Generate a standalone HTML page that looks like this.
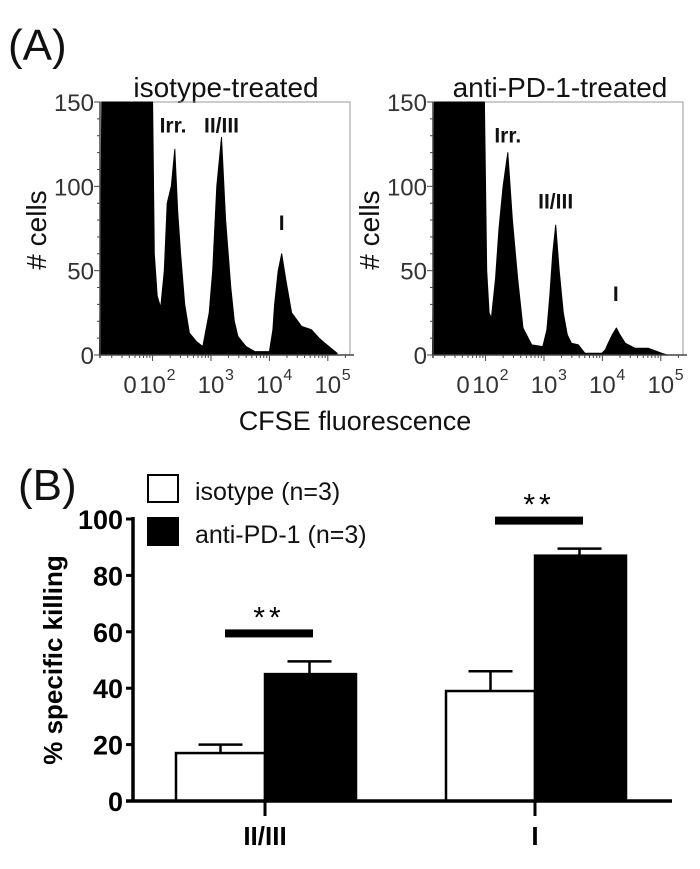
<!DOCTYPE html>
<html><head><meta charset="utf-8">
<style>
html,body{margin:0;padding:0;background:#fff;}
svg{display:block;font-family:"Liberation Sans",Arial,sans-serif;}
</style></head>
<body>
<svg id="fig" width="700" height="869" viewBox="0 0 700 869" xmlns="http://www.w3.org/2000/svg">
<text x="8" y="60" font-size="44" fill="#111">(A)</text>
<text x="226" y="97" font-size="28" text-anchor="middle" fill="#111">isotype-treated</text>
<text x="560" y="97" font-size="28" text-anchor="middle" fill="#111">anti-PD-1-treated</text>
<text x="355" y="430" font-size="27" text-anchor="middle" fill="#111">CFSE fluorescence</text>
<g id="histA"></g>
<text x="18" y="500" font-size="44" fill="#111">(B)</text>
<g id="barB"></g>
</svg>
<script>
const NS="http://www.w3.org/2000/svg";
function mk(p,t,a){const e=document.createElementNS(NS,t);for(const k in a)e.setAttribute(k,a[k]);p.appendChild(e);return e;}

// Histogram data: x in log decades, y counts
const isoX=[1.09,1.13,2.0,2.03,2.08,2.14,2.2,2.25,2.32,2.38,2.43,2.48,2.55,2.63,2.75,2.86,2.97,3.03,3.1,3.18,3.25,3.34,3.40,3.46,3.6,3.75,4.0,4.06,4.09,4.15,4.21,4.28,4.38,4.55,4.72,4.85,4.95,5.16];
const isoY=[25,150,150,60,35,28,50,90,100,122,85,60,30,13,8,5,25,50,100,129,80,40,20,11,5,2,2,15,30,50,60,45,25,17,15,10,7,1];
const pdX=[1.09,1.12,1.98,2.02,2.06,2.10,2.17,2.23,2.30,2.38,2.46,2.55,2.64,2.79,2.98,3.05,3.10,3.15,3.20,3.26,3.33,3.40,3.47,3.59,3.70,3.99,4.05,4.10,4.17,4.24,4.30,4.39,4.56,4.79,5.02,5.11];
const pdY=[30,150,150,50,25,22,45,75,100,120,80,45,16,6,5,15,35,60,77,50,25,12,7,6,1,1,3,7,12,16,12,7,4,4,1,0];
const yTicks=[0,50,100,150];
const xTickVals=[2,3,4,5];
const xTickLabels=["10","10","10","10"];
const xTickExp=["2","3","4","5"];

const H=document.getElementById('histA');
function histPanel(x0,xs,ys,name,labels){
  const w=250,top=102,bot=355;
  const dmin=1.1,dmax=5.38;
  const sx=d=>x0+(d-dmin)/(dmax-dmin)*w;
  const sy=v=>bot-(Math.min(v,150)/150)*(bot-top);
  const g=mk(H,'g',{});
  
  
  const fr=mk(g,'rect',{x:x0,y:top,width:w,height:bot-top,fill:'none',stroke:'#999','stroke-width':1});
  
  
  let d='M'+sx(xs[0])+','+bot;
  for(let i=0;i<xs.length;i++) d+=' L'+sx(Math.max(xs[i],dmin)).toFixed(1)+','+sy(ys[i]).toFixed(1);
  d+=' L'+sx(xs[xs.length-1])+','+bot+' Z';
  const p=mk(g,'path',{d:d,fill:'#000','stroke':'#000','stroke-width':1,'stroke-linejoin':'round'});
  
  
  mk(g,'line',{x1:x0,y1:top,x2:x0,y2:bot+3,stroke:'#444','stroke-width':1.5});
  mk(g,'line',{x1:x0,y1:bot,x2:x0+w+4,y2:bot,stroke:'#444','stroke-width':1.5});
  for(let v=0;v<=150;v+=10){const y=sy(v);mk(g,'line',{x1:x0-(v%50?3:6),y1:y,x2:x0,y2:y,stroke:'#444','stroke-width':1});}
  yTicks.forEach(v=>{const t=mk(g,'text',{x:x0-6,y:sy(v)+9,'font-size':24,'text-anchor':'end',fill:'#333'});t.textContent=v;
    });
  for(let k=1;k<6;k++){for(let m=1;m<10;m++){const dd=k+Math.log10(m);if(dd<dmin||dd>dmax)continue;const X=sx(dd);mk(g,'line',{x1:X,y1:bot,x2:X,y2:bot+(m==1?6:3),stroke:'#444','stroke-width':1});}}
  const z=mk(g,'text',{x:x0+30,y:bot+38,'font-size':24,'text-anchor':'middle',fill:'#333'});z.textContent='0';
  xTickVals.forEach((v,i)=>{const t=mk(g,'text',{x:sx(v),y:bot+38,'font-size':24,'text-anchor':'middle',fill:'#333'});
    t.textContent=xTickLabels[i];
    
    const s=mk(g,'text',{x:sx(v)+14,y:bot+25,'font-size':16,fill:'#333'});s.textContent=xTickExp[i];});
  const yl=mk(g,'text',{transform:'translate('+(x0-54)+',230) rotate(-90)','font-size':28,'text-anchor':'middle',fill:'#111'});
  yl.textContent='# cells';
  
  labels.forEach(l=>{const t=mk(g,'text',{x:sx(l[0]),y:sy(l[1]),'font-size':21,'font-weight':'bold','text-anchor':'middle',fill:'#111'});t.textContent=l[2];
    });
}
histPanel(100,isoX,isoY,'isotype',[[2.35,132,'Irr.'],[3.18,132,'II/III'],[4.21,74,'I']]);
histPanel(433,pdX,pdY,'anti-pd1',[[2.38,126,'Irr.'],[3.2,87,'II/III'],[4.23,32,'I']]);

// Bar chart data
const groups=["II/III","I"];
const isoMean=[17,39];
const isoErr=[3,7];
const pdMean=[45,87];
const pdErr=[4.5,2.5];
const barTicks=[0,20,40,60,80,100];

const B=document.getElementById('barB');
const bx0=133,bx1=672,by0=801,by1=519;
const vy=v=>by0-v/100*(by0-by1);
const centers=[265,535];
const bw=89;
barTicks.forEach(v=>{const y=vy(v);mk(B,'line',{x1:bx0-7,y1:y,x2:bx0,y2:y,stroke:'#000','stroke-width':3});
  const t=mk(B,'text',{x:bx0-10,y:y+10,'font-size':27,'font-weight':'bold','text-anchor':'end',fill:'#000'});t.textContent=v;
  });
groups.forEach((gname,i)=>{
  const c=centers[i];
  [[isoMean[i],isoErr[i],c-bw/2],[pdMean[i],pdErr[i],c+bw/2]].forEach(e=>{
    mk(B,'line',{x1:e[2],y1:vy(e[0]),x2:e[2],y2:vy(e[0]+e[1]),stroke:'#000','stroke-width':2.5});
    mk(B,'line',{x1:e[2]-22,y1:vy(e[0]+e[1]),x2:e[2]+22,y2:vy(e[0]+e[1]),stroke:'#000','stroke-width':2.5});
  });
  const r1=mk(B,'rect',{x:c-bw,y:vy(isoMean[i]),width:bw,height:vy(0)-vy(isoMean[i]),fill:'#fff',stroke:'#000','stroke-width':2.5});
  
  const r2=mk(B,'rect',{x:c,y:vy(pdMean[i]),width:bw+2,height:vy(0)-vy(pdMean[i]),fill:'#000',stroke:'#000','stroke-width':2.5});
  
  const top=Math.max(isoMean[i]+isoErr[i],pdMean[i]+pdErr[i]);
  const sy=vy(top)-28;
  const sb=mk(B,'rect',{x:c-40,y:sy-4,width:88,height:8,fill:'#000'});
  
  const st=mk(B,'text',{x:c+4,y:sy-6,'font-size':30,'text-anchor':'middle',fill:'#000','letter-spacing':'4'});st.textContent='**';
  
  mk(B,'line',{x1:c,y1:by0,x2:c,y2:by0+15,stroke:'#000','stroke-width':3});
  const t=mk(B,'text',{x:c,y:by0+44,'font-size':26,'font-weight':'bold','text-anchor':'middle',fill:'#000'});t.textContent=gname;
  
});
mk(B,'line',{x1:bx0,y1:by1-2,x2:bx0,y2:by0+1,stroke:'#000','stroke-width':3.5});
mk(B,'line',{x1:bx0-7,y1:by0,x2:bx1,y2:by0,stroke:'#000','stroke-width':3.5});
const yt=mk(B,'text',{transform:'translate(62,660) rotate(-90)','font-size':26,'font-weight':'bold','text-anchor':'middle',fill:'#000'});
yt.textContent='% specific killing';

const l1=mk(B,'rect',{x:148,y:475,width:30,height:27,fill:'#fff',stroke:'#000','stroke-width':2});

const l2=mk(B,'rect',{x:147,y:517,width:32,height:29,fill:'#000'});

const t1=mk(B,'text',{x:195,y:500,'font-size':25,fill:'#111'});t1.textContent='isotype (n=3)';

const t2=mk(B,'text',{x:195,y:543,'font-size':25,fill:'#111'});t2.textContent='anti-PD-1 (n=3)';

</script>
</body></html>
